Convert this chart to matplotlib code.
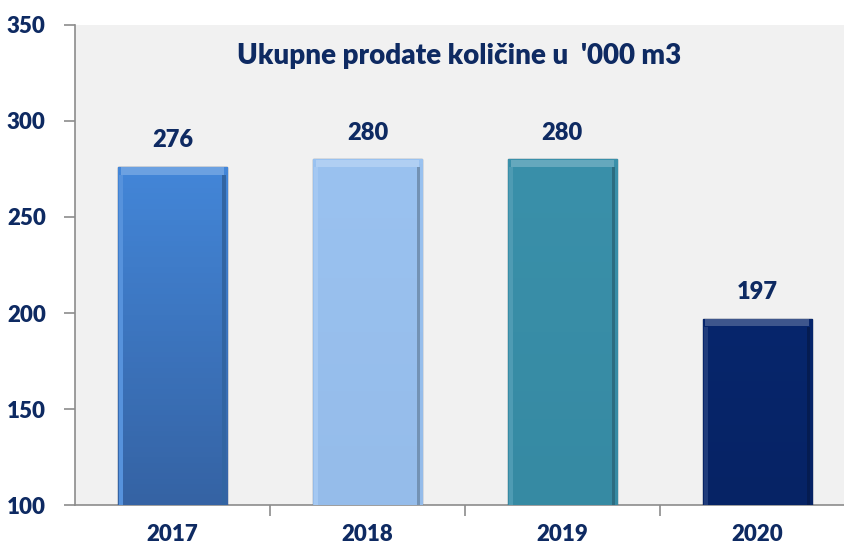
import numpy as np
import matplotlib.pyplot as plt
from matplotlib.colors import to_rgb

years = ['2017', '2018', '2019', '2020']
values = [276, 280, 280, 197]
top_colors = ['#4386d8', '#9ac2f0', '#3a90aa', '#07266c']
bottom_colors = ['#3563a4', '#95bcea', '#368aa3', '#062365']

navy = '#0e2a62'
plt.rcParams['font.family'] = ['Lato', 'DejaVu Sans']
wt = 'heavy'

fig = plt.figure(figsize=(8.45, 5.49), dpi=100)
ax = fig.add_axes([0.0888, 0.0801, 0.9112, 0.8744])
ax.set_facecolor('#f1f1f1')

x = np.arange(len(years))
w = 0.56
base = 100


def shade(c, f):
    r, g, b = to_rgb(c)
    if f > 0:
        return (r + (1 - r) * f, g + (1 - g) * f, b + (1 - b) * f)
    return (r * (1 + f), g * (1 + f), b * (1 + f))


bars = ax.bar(x, np.array(values) - base, w, bottom=base, color=top_colors,
              edgecolor=[shade(c, -0.35) for c in bottom_colors], linewidth=1.0, zorder=3)

# vertical gradient inside each bar
for b, ct, cb in zip(bars, top_colors, bottom_colors):
    t = np.linspace(0, 1, 64)[:, None]
    a, c = np.array(to_rgb(cb)), np.array(to_rgb(ct))
    img = (a[None, None, :] * (1 - t[..., None]) + c[None, None, :] * t[..., None])
    x0, y0 = b.get_x(), b.get_y()
    im = ax.imshow(img, extent=[x0, x0 + b.get_width(), y0, y0 + b.get_height()],
                   origin='lower', aspect='auto', zorder=3.5)
    im.set_clip_path(b)

# bevel: lighter band on top of each bar, side shading
for xi, v, c in zip(x, values, top_colors):
    ax.bar(xi, 3.8, w * 0.95, bottom=v - 4.0, color=shade(c, 0.22), linewidth=0, zorder=4)
    ax.bar(xi - w / 2 + 0.008, v - base - 4.2, 0.018, bottom=base, color=shade(c, 0.1),
           align='edge', linewidth=0, zorder=4)
    ax.bar(xi + w / 2 - 0.026, v - base - 4.2, 0.018, bottom=base, color=shade(c, -0.25),
           align='edge', linewidth=0, zorder=4)

ax.set_xlim(-0.5, 3.45)
ax.set_ylim(100, 350)

for xi, v in zip(x, values):
    ax.text(xi, v + 14, str(v), ha='center', va='center', fontsize=17,
            fontweight=wt, color=navy, zorder=5)

ax.text(1.47, 334, "Ukupne prodate količine u  '000 m3", ha='center', va='center',
        fontsize=20, fontweight=wt, color=navy)

ax.set_yticks([100, 150, 200, 250, 300, 350])
ax.set_xticks(x)
ax.set_xticklabels(years)
ax.set_xticks([0.5, 1.5, 2.5], minor=True)

for s in ['top', 'right']:
    ax.spines[s].set_visible(False)
for s in ['left', 'bottom']:
    ax.spines[s].set_color('#8c8c8c')
    ax.spines[s].set_linewidth(1.2)

ax.tick_params(axis='y', direction='out', length=8, color='#8c8c8c', width=1.2,
               labelsize=16, labelcolor=navy, pad=13)
ax.tick_params(axis='x', which='major', length=0, labelsize=16, labelcolor=navy, pad=14)
ax.tick_params(axis='x', which='minor', direction='out', length=8, color='#8c8c8c', width=1.2)
for lab in ax.get_xticklabels() + ax.get_yticklabels():
    lab.set_fontweight(wt)

plt.savefig('out.png', dpi=100)
